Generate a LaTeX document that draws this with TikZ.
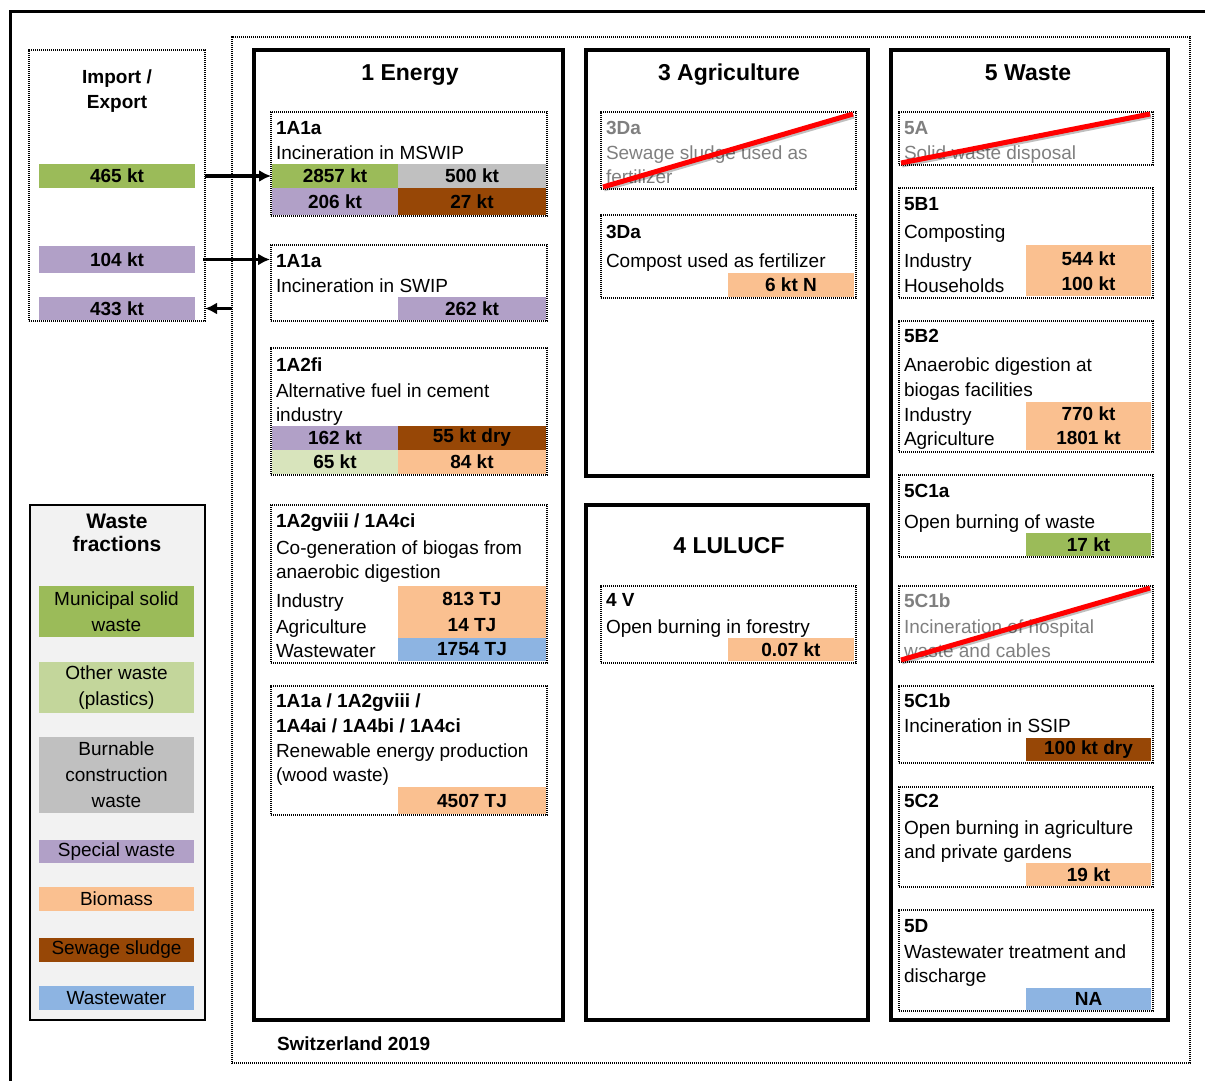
\documentclass[tikz,border=0pt]{standalone}
\usepackage{fontspec}
\setmainfont{Liberation Sans}
\usetikzlibrary{arrows.meta}
\definecolor{msw}{HTML}{9BBB59}
\definecolor{plast}{HTML}{C3D69B}
\definecolor{plastl}{HTML}{D8E4BC}
\definecolor{constr}{HTML}{C0C0C0}
\definecolor{special}{HTML}{B1A0C7}
\definecolor{biomass}{HTML}{FAC090}
\definecolor{sludge}{HTML}{974706}
\definecolor{wwater}{HTML}{8DB4E2}
\definecolor{legbg}{HTML}{F2F2F2}
\definecolor{greytxt}{HTML}{7F7F7F}
\tikzset{
  every node/.style={font=\fontsize{19pt}{24pt}\selectfont},
  tx/.style={anchor=base west, inner sep=0pt, outer sep=0pt},
  txb/.style={tx, font=\fontsize{19pt}{24pt}\selectfont\bfseries},
  hdr/.style={anchor=base, inner sep=0pt, font=\fontsize{23pt}{27pt}\selectfont\bfseries},
  barn/.style={inner sep=0pt, outer sep=0pt, font=\fontsize{19pt}{24pt}\selectfont\bfseries},
  legn/.style={inner sep=0pt, outer sep=0pt, align=center, font=\fontsize{19pt}{26pt}\selectfont},
  subb/.style={draw, line width=2.5pt, dash pattern=on 1.2pt off 0.8pt, inner sep=0pt, outer sep=0pt},
  mainb/.style={draw, line width=4pt, inner sep=0pt, outer sep=0pt},
  crossline/.style={draw=red, line width=5pt},
  crossshadow/.style={draw=black, opacity=0.25, line width=5pt},
  flow/.style={line width=3.5pt, -{Latex[length=12pt,width=12pt]}},
}
\newcommand\mybar[7]{\node[barn,fill=#6,minimum width={#4pt-#2pt},minimum height={#5pt-#3pt}] (#1) at ({(#2+#4)/2},{(#3+#5)/2}) {#7};}
\newcommand\mylegbar[7]{\node[legn,fill=#6,minimum width={#4pt-#2pt},minimum height={#5pt-#3pt}] (#1) at ({(#2+#4)/2},{(#3+#5)/2}) {#7};}
\newcommand\mysub[5]{\node[subb,minimum width={#4pt-#2pt},minimum height={#5pt-#3pt}] (#1) at ({(#2+#4)/2},{(#3+#5)/2}) {};}
\newcommand\mymain[5]{\node[mainb,minimum width={#4pt-#2pt},minimum height={#5pt-#3pt}] (#1) at ({(#2+#4)/2},{(#3+#5)/2}) {};}
\newcommand\mycross[1]{%
  \draw[crossshadow] ([shift={(3,-0)}]#1.south west) -- ([shift={(-2,4)}]#1.north east);
  \draw[crossline] ([shift={(2,-2)}]#1.south west) -- ([shift={(-3,2)}]#1.north east);}
\begin{document}
\begin{tikzpicture}[x=1pt,y=-1pt]
\useasboundingbox (0,0) rectangle (1205,1081);
% outer frame
\draw[line width=3pt] (10,1090) -- (10,12) -- (1215,12);
% dotted frame
\node[subb, line width=2pt, minimum width=958pt, minimum height=1026pt] (frame) at (711,550) {};

% ---------- Import / Export ----------
\mysub{ie}{29}{50}{205}{321}
\node[hdr, font=\fontsize{19pt}{24pt}\selectfont\bfseries] (ieT1) at (117,84) {Import /};
\node[hdr, font=\fontsize{19pt}{24pt}\selectfont\bfseries] (ieT2) at (117,108) {Export};
\mybar{i465}{39}{164}{195}{188}{msw}{465 kt}
\mybar{i104}{39}{246}{195}{273}{special}{104 kt}
\mybar{i433}{39}{297}{195}{320}{special}{433 kt}

% ---------- Legend ----------
\node[draw, line width=2pt, fill=legbg, minimum width=175pt, minimum height=515pt, inner sep=0pt] (leg) at (117.5,762.5) {};
\node[hdr, font=\fontsize{21pt}{24pt}\selectfont\bfseries] (legT1) at (117,528) {Waste};
\node[hdr, font=\fontsize{21pt}{24pt}\selectfont\bfseries] (legT2) at (117,551) {fractions};
\mylegbar{lmsw}{39}{586}{194}{637}{msw}{Municipal solid\\waste}
\mylegbar{lpl}{39}{662}{194}{713}{plast}{Other waste\\(plastics)}
\mylegbar{lcon}{39}{737}{194}{813}{constr}{Burnable\\construction\\waste}
\mylegbar{lsp}{39}{840}{194}{863}{special}{Special waste}
\mylegbar{lbio}{39}{887}{194}{911}{biomass}{Biomass}
\mylegbar{lsl}{39}{938}{194}{962}{sludge}{Sewage sludge}
\mylegbar{lww}{39}{986}{194}{1010}{wwater}{Wastewater}

% ---------- Main boxes ----------
\mymain{energy}{254}{50}{563}{1020}
\mymain{agri}{586}{50}{868}{476}
\mymain{lulucf}{586}{505}{868}{1020}
\mymain{waste}{891}{50}{1168}{1020}
\node[hdr] (energyT) at (410,81) {1 Energy};
\node[hdr] (agriT) at (729,81) {3 Agriculture};
\node[hdr] (lulucfT) at (729,553) {4 LULUCF};
\node[hdr] (wasteT) at (1028,81) {5 Waste};
\node[txb] (swiss) at (277,1050) {Switzerland 2019};

% ---------- Energy ----------
\mybar{e1a}{272}{164}{398}{188}{msw}{2857 kt}
\mybar{e1b}{398}{164}{546}{188}{constr}{500 kt}
\mybar{e1c}{272}{188}{398}{215}{special}{206 kt}
\mybar{e1d}{398}{188}{546}{215}{sludge}{27 kt}
\mysub{e1}{271}{112}{547}{216}
\node[txb] (e1t) at (276,134) {1A1a};
\node[tx] (e1d1) at (276,159) {Incineration in MSWIP};

\mybar{e2a}{398}{297}{546}{320}{special}{262 kt}
\mysub{e2}{271}{245}{547}{321}
\node[txb] (e2t) at (276,267) {1A1a};
\node[tx] (e2d1) at (276,292) {Incineration in SWIP};

\mybar{e3a}{272}{426}{398}{450}{special}{162 kt}
\mybar{e3b}{398}{426}{546}{450}{sludge}{55 kt dry}
\mybar{e3c}{272}{450}{398}{474}{plastl}{65 kt}
\mybar{e3d}{398}{450}{546}{474}{biomass}{84 kt}
\mysub{e3}{271}{348}{547}{475}
\node[txb] (e3t) at (276,371) {1A2fi};
\node[tx] (e3d1) at (276,397) {Alternative fuel in cement};
\node[tx] (e3d2) at (276,421) {industry};

\mybar{e4a}{398}{586}{546}{612}{biomass}{813 TJ}
\mybar{e4b}{398}{612}{546}{638}{biomass}{14 TJ}
\mybar{e4c}{398}{638}{546}{661}{wwater}{1754 TJ}
\mysub{e4}{271}{505}{547}{663}
\node[txb] (e4t) at (276,527) {1A2gviii / 1A4ci};
\node[tx] (e4d1) at (276,554) {Co-generation of biogas from};
\node[tx] (e4d2) at (276,578) {anaerobic digestion};
\node[tx] (e4r1) at (276,607) {Industry};
\node[tx] (e4r2) at (276,633) {Agriculture};
\node[tx] (e4r3) at (276,657) {Wastewater};

\mybar{e5a}{398}{787}{546}{814}{biomass}{4507 TJ}
\mysub{e5}{271}{686}{547}{815}
\node[txb] (e5t1) at (276,707) {1A1a / 1A2gviii /};
\node[txb] (e5t2) at (276,732) {1A4ai / 1A4bi / 1A4ci};
\node[tx] (e5d1) at (276,757) {Renewable energy production};
\node[tx] (e5d2) at (276,781) {(wood waste)};

% ---------- Agriculture ----------
\mysub{a1}{601}{112}{856}{189}
\node[txb, text=greytxt] (a1t) at (606,134) {3Da};
\node[tx, text=greytxt] (a1d1) at (606,159) {Sewage sludge used as};
\node[tx, text=greytxt] (a1d2) at (606,183) {fertilizer};
\mycross{a1}

\mybar{a2a}{728}{273}{854}{297}{biomass}{6 kt N}
\mysub{a2}{601}{215}{856}{298}
\node[txb] (a2t) at (606,238) {3Da};
\node[tx] (a2d1) at (606,267) {Compost used as fertilizer};

% ---------- LULUCF ----------
\mybar{l1a}{728}{638}{854}{661}{biomass}{0.07 kt}
\mysub{l1}{601}{586}{856}{663}
\node[txb] (l1t) at (606,606) {4 V};
\node[tx] (l1d1) at (606,633) {Open burning in forestry};

% ---------- Waste ----------
\mysub{w1}{899}{112}{1153}{165}
\node[txb, text=greytxt] (w1t) at (904,134) {5A};
\node[tx, text=greytxt] (w1d1) at (904,159) {Solid waste disposal};
\mycross{w1}

\mybar{w2a}{1026}{245}{1151}{272}{biomass}{544 kt}
\mybar{w2b}{1026}{272}{1151}{296}{biomass}{100 kt}
\mysub{w2}{899}{188}{1153}{298}
\node[txb] (w2t) at (904,210) {5B1};
\node[tx] (w2d1) at (904,238) {Composting};
\node[tx] (w2r1) at (904,267) {Industry};
\node[tx] (w2r2) at (904,292) {Households};

\mybar{w3a}{1026}{402}{1151}{426}{biomass}{770 kt}
\mybar{w3b}{1026}{426}{1151}{450}{biomass}{1801 kt}
\mysub{w3}{899}{321}{1153}{452}
\node[txb] (w3t) at (904,342) {5B2};
\node[tx] (w3d1) at (904,371) {Anaerobic digestion at};
\node[tx] (w3d2) at (904,396) {biogas facilities};
\node[tx] (w3r1) at (904,421) {Industry};
\node[tx] (w3r2) at (904,445) {Agriculture};

\mybar{w4a}{1026}{533}{1151}{556}{msw}{17 kt}
\mysub{w4}{899}{475}{1153}{557}
\node[txb] (w4t) at (904,497) {5C1a};
\node[tx] (w4d1) at (904,528) {Open burning of waste};

\mysub{w5}{899}{586}{1153}{662}
\node[txb, text=greytxt] (w5t) at (904,607) {5C1b};
\node[tx, text=greytxt] (w5d1) at (904,633) {Incineration of hospital};
\node[tx, text=greytxt] (w5d2) at (904,657) {waste and cables};
\mycross{w5}

\mybar{w6a}{1026}{738}{1151}{761}{sludge}{100 kt dry}
\mysub{w6}{899}{686}{1153}{763}
\node[txb] (w6t) at (904,707) {5C1b};
\node[tx] (w6d1) at (904,732) {Incineration in SSIP};

\mybar{w7a}{1026}{863}{1151}{886}{biomass}{19 kt}
\mysub{w7}{899}{787}{1153}{887}
\node[txb] (w7t) at (904,807) {5C2};
\node[tx] (w7d1) at (904,834) {Open burning in agriculture};
\node[tx] (w7d2) at (904,858) {and private gardens};

\mybar{w8a}{1026}{988}{1151}{1010}{wwater}{NA}
\mysub{w8}{899}{910}{1153}{1011}
\node[txb] (w8t) at (904,932) {5D};
\node[tx] (w8d1) at (904,958) {Wastewater treatment and};
\node[tx] (w8d2) at (904,982) {discharge};

% ---------- Flows ----------
\draw[flow] (ie.east |- i465) -- (e1.west |- i465);
\draw[flow] ([xshift=-2pt]ie.east |- i104) -- ([xshift=-1pt]e2.west |- i104);
\draw[flow] (frame.west |- i433) -- (ie.east |- i433);
\end{tikzpicture}
\end{document}
